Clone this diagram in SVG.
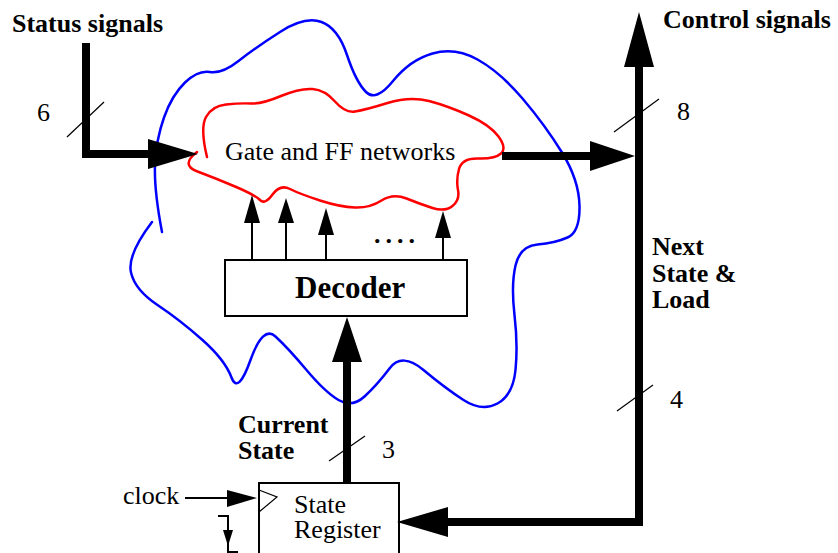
<svg xmlns="http://www.w3.org/2000/svg" width="838" height="553" viewBox="0 0 838 553">
  <style>
    .bold { font-family: "Liberation Serif", "Times New Roman", serif; font-weight: bold; font-size: 26px; fill: #000; }
    .reg { font-family: "Liberation Serif", "Times New Roman", serif; font-size: 26px; fill: #000; }
    .bus { fill: none; stroke: #000; stroke-width: 8; stroke-linejoin: miter; }
    .wire { fill: none; stroke: #000; stroke-width: 2; }
    .slash { fill: none; stroke: #000; stroke-width: 1.2; }
    .head { fill: #000; stroke: none; }
    .box { fill: #fff; stroke: #000; stroke-width: 2; }
  </style>

  <!-- outer cloud (combinational + sequential control logic boundary) -->
  <g id="logic-cloud">
    <path fill="none" stroke="#0000ff" stroke-width="2.5" stroke-linecap="round"
      d="M162,232 Q154,190 155,165 Q156,140 164,117.5 Q172,95 185,82.5 Q198,70 210,72 Q222,74 238.5,61
         Q255,48 280,32 Q305,16 321.5,22 Q338,28 347,55 Q356,82 366,92 Q376,102 393,81 Q410,60 432.5,53.5
         Q455,47 477.5,59.5 Q500,72 522.5,98.5 Q545,125 562,152.5 Q579,180 579.5,206 Q580,232 567.5,237.5
         Q555,243 537.5,244.5 Q520,246 515.5,265.5 Q511,285 514.5,315 Q518,345 515.5,370 Q513,395 497.5,403.5
         Q482,412 463.5,400 Q445,388 423.5,370 Q402,352 389.5,368.5 Q377,385 364.5,396.5 Q352,408 338.5,400
         Q325,392 306.5,370 Q288,348 275.5,336.5 Q263,325 250.5,360 Q238,395 231.5,377.5 Q225,360 202.5,340
         Q180,320 157.5,305 Q135,290 131,272.5 Q127,255 152,222"/>
  </g>

  <!-- inner cloud: gate and flip-flop networks -->
  <g id="gate-ff-networks">
    <path fill="none" stroke="#ff0000" stroke-width="2.5" stroke-linecap="round"
      d="M207,157 Q200,128 206,117 Q212,106 226,104.5 Q240,103 251,103.5 Q262,104 281,96 Q300,88 312.5,89
         Q325,90 335,101.5 Q345,113 355,111.5 Q365,110 387.5,103 Q410,96 429,101 Q448,106 469,115.5
         Q490,125 498.5,136.5 Q507,148 501,153.5 Q495,159 478.5,158.5 Q462,158 459,169 Q456,180 458,190
         Q460,200 452.5,206 Q445,212 432.5,208 Q420,204 406.5,198.5 Q393,193 381.5,200.5 Q370,208 355,207.5
         Q340,207 320,200.5 Q300,194 290,189 Q280,184 272.5,194.5 Q265,205 260,200 Q255,195 235,186.5
         Q215,178 197.5,171.5 Q180,165 197,152"/>
    <text class="reg" x="225" y="160">Gate and FF networks</text>
  </g>

  <g id="decoder">
    <rect class="box" x="225" y="260" width="242" height="56"/>
    <text class="bold" x="295" y="298" style="font-size:31px">Decoder</text>
  </g>

  <g id="state-register">
    <rect class="box" x="259" y="483" width="140" height="90"/>
    <polyline class="slash" points="259,490 277,497 259,512"/>
    <text class="reg" x="294" y="513">State</text>
    <text class="reg" x="294" y="538">Register</text>
  </g>

  <g id="labels">
    <text class="bold" x="12" y="32">Status signals</text>
    <text class="bold" x="663" y="28">Control signals</text>
    <text class="bold" x="652" y="255">Next</text>
    <text class="bold" x="652" y="282">State &amp;</text>
    <text class="bold" x="652" y="308">Load</text>
    <text class="bold" x="238" y="433">Current</text>
    <text class="bold" x="238" y="459">State</text>
    <text class="reg" x="123" y="504">clock</text>
    <text class="reg" x="37" y="121">6</text>
    <text class="reg" x="677" y="120">8</text>
    <text class="reg" x="382" y="458">3</text>
    <text class="reg" x="670" y="408">4</text>
    <text class="bold" x="374" y="243" style="letter-spacing:5px">....</text>
  </g>

  <g id="connectors">
    <!-- status bus into the networks -->
    <path class="bus" d="M86,43 V154 H150"/>
    <polygon class="head" points="148,139 198,154 148,169"/>
    <!-- networks out to control / next-state bus -->
    <path class="bus" d="M502,156 H592"/>
    <polygon class="head" points="590,141 635,156 590,171"/>
    <path class="bus" d="M639,62 V522 H446"/>
    <polygon class="head" points="624,67 639,12 654,67"/>
    <polygon class="head" points="448,507 397,522 448,537"/>
    <!-- current state up to decoder -->
    <path class="bus" d="M347,484 V358"/>
    <polygon class="head" points="332,362 347,317 362,362"/>
    <!-- decoder outputs -->
    <path class="wire" d="M252,260 V222 M286,260 V222 M326,260 V233 M443,260 V236"/>
    <polygon class="head" points="244,223 252,195 260,223"/>
    <polygon class="head" points="278,223 286,198 294,223"/>
    <polygon class="head" points="318,235 326,208 334,235"/>
    <polygon class="head" points="435,238 443,211 451,238"/>
    <!-- clock -->
    <path class="wire" d="M185,498 H229"/>
    <polygon class="head" points="227,490 257,498 227,507"/>
    <path class="wire" d="M218,516 H228 V552 H238"/>
    <polygon class="head" points="223,530 228,546 233,530"/>
    <!-- bus width marks -->
    <line class="slash" x1="67" y1="137" x2="104" y2="102"/>
    <line class="slash" x1="614" y1="132" x2="659" y2="99"/>
    <line class="slash" x1="329" y1="461" x2="365" y2="436"/>
    <line class="slash" x1="617" y1="411" x2="653" y2="385"/>
  </g>
</svg>
